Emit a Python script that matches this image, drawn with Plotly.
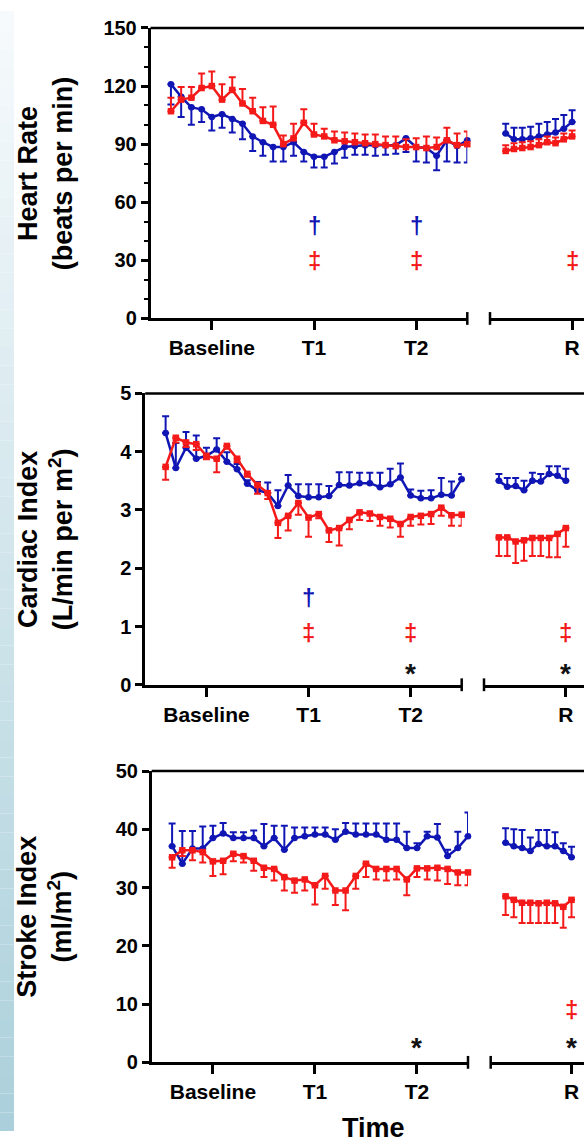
import plotly.graph_objects as go

# ---------------- data ----------------
# time points: 30 readings on the main timeline, 9 during recovery
t_main = list(range(30))
t_rec = list(range(9))

main_tickvals = [4, 14, 24]
main_ticktext = ["Baseline", "T1", "T2"]
rec_tickvals = [8]
rec_ticktext = ["R"]

# Heart rate (beats per min)
hr_blue = [121, 114.5, 109, 108, 104, 105.5, 103, 100.5, 94, 91, 88.5, 88.5, 91, 86, 83.5,
           83.5, 86, 88.5, 89, 89.5, 89.5, 89.5, 89.5, 93, 88.5, 88, 84, 92, 89, 92]
hr_blue_err = [10.5, 10.5, 9, 6.5, 7, 7, 7, 8, 7.5, 7, 7.5, 7.5, 7, 5, 5.5,
               5.5, 6, 5.5, 4.5, 5, 5.5, 5, 4.5, 7, 7.5, 7.5, 7.5, 11, 8.5, 11.5]
hr_red = [107, 113, 114, 119, 120, 113, 118, 111, 107, 102, 100, 90, 93, 101, 95,
          94, 92, 91.5, 91, 90.5, 90, 89.5, 89, 88.5, 88.5, 88, 88.5, 92, 89.5, 90]
hr_red_err = [7, 6.5, 5.5, 7.5, 7.5, 8, 6.5, 7.5, 7, 7, 9.5, 4.5, 7.5, 7, 5.5,
              4, 4.5, 4.5, 4.5, 4.5, 5, 4.5, 5, 4, 4.5, 6, 5, 6.5, 6, 6.5]
hr_blue_rec = [95.5, 92.5, 92.5, 93, 94, 95, 96, 98, 101.5]
hr_blue_rec_err = [5, 6, 6, 6, 6.5, 6.5, 7, 7, 6]
hr_red_rec = [86.5, 87.5, 88, 88.5, 89.5, 91, 90.5, 92.5, 94]
hr_red_rec_err = [3, 3, 3, 3, 3, 3, 3, 3, 3]

# Cardiac index (L/min per m2)
ci_blue = [4.32, 3.72, 4.07, 3.88, 3.93, 4.04, 3.83, 3.70, 3.45, 3.34, 3.29, 3.07, 3.42, 3.24, 3.22,
           3.22, 3.24, 3.43, 3.42, 3.46, 3.46, 3.39, 3.44, 3.56, 3.25, 3.20, 3.20, 3.26, 3.25, 3.53]
ci_blue_err = [0.29, 0.43, 0.27, 0.40, 0.14, 0.19, 0.16, 0.09, 0.06, 0.14, 0.18, 0.27, 0.18, 0.20, 0.22,
               0.22, 0.17, 0.22, 0.23, 0.18, 0.18, 0.25, 0.27, 0.24, 0.10, 0.13, 0.14, 0.29, 0.24, 0.09]
ci_red = [3.74, 4.24, 4.16, 4.13, 3.93, 3.88, 4.10, 3.88, 3.62, 3.43, 3.29, 2.78, 2.90, 3.12, 2.87,
          2.93, 2.65, 2.69, 2.83, 2.96, 2.94, 2.88, 2.85, 2.76, 2.88, 2.90, 2.93, 3.04, 2.91, 2.92]
ci_red_err = [0.22, 0.08, 0.08, 0.10, 0.06, 0.23, 0.05, 0.06, 0.05, 0.15, 0.10, 0.26, 0.25, 0.20, 0.33,
              0.07, 0.20, 0.30, 0.16, 0.13, 0.13, 0.15, 0.15, 0.22, 0.15, 0.15, 0.17, 0.14, 0.18, 0.19]
ci_blue_rec = [3.50, 3.40, 3.41, 3.34, 3.50, 3.49, 3.62, 3.59, 3.50]
ci_blue_rec_err = [0.12, 0.15, 0.14, 0.16, 0.14, 0.13, 0.13, 0.16, 0.21]
ci_red_rec = [2.53, 2.53, 2.46, 2.48, 2.52, 2.52, 2.52, 2.59, 2.69]
ci_red_rec_err = [0.32, 0.32, 0.37, 0.35, 0.31, 0.31, 0.33, 0.40, 0.32]

# Stroke index (ml/m2)
si_blue = [37.1, 34.1, 36.7, 36.7, 38.5, 39.3, 38.5, 38.5, 38.5, 37.1, 38.5, 36.5, 38.5, 38.8, 39.1,
           39.1, 38.2, 39.6, 39.1, 39.1, 39.1, 38.2, 38.2, 36.8, 36.8, 38.8, 38.6, 35.4, 36.8, 38.8]
si_blue_err = [3.9, 5.6, 3.0, 3.8, 2.1, 1.8, 1.0, 1.0, 1.3, 3.8, 2.1, 4.1, 1.8, 1.5, 1.2,
               1.2, 1.8, 1.5, 1.9, 1.9, 1.9, 2.8, 2.8, 2.8, 0.8, 0.8, 2.3, 1.1, 2.8, 4.1]
si_red = [35.2, 36.4, 36.4, 36.1, 34.5, 34.6, 35.8, 35.4, 34.6, 33.4, 33.2, 31.8, 31.2, 31.4, 30.4,
          32.0, 29.5, 29.5, 32.0, 34.1, 33.2, 33.2, 33.2, 31.4, 33.3, 33.3, 33.4, 33.2, 32.6, 32.6]
si_red_err = [1.8, 1.0, 1.7, 1.8, 2.5, 2.3, 1.3, 1.1, 1.7, 1.6, 2.0, 2.3, 2.1, 1.9, 3.3,
              2.2, 2.5, 3.4, 2.2, 2.3, 1.8, 2.0, 1.8, 2.7, 1.5, 1.9, 2.2, 2.6, 2.2, 2.2]
si_blue_rec = [37.7, 37.1, 36.8, 36.3, 37.5, 37.1, 37.1, 36.3, 35.2]
si_blue_rec_err = [2.5, 2.9, 3.1, 2.3, 2.4, 2.8, 2.4, 1.3, 1.8]
si_red_rec = [28.5, 27.9, 27.4, 27.4, 27.3, 27.4, 27.3, 26.7, 27.9]
si_red_rec_err = [3.2, 3.0, 3.5, 3.5, 3.4, 3.5, 3.4, 3.6, 3.0]

# significance symbols: (segment, time, level, symbol, group)
hr_marks = [("main", 14, 48, "†", "blue"), ("main", 24, 48, "†", "blue"),
            ("main", 14, 30, "‡", "red"), ("main", 24, 30, "‡", "red"),
            ("rec", 8, 30, "‡", "red")]
ci_marks = [("main", 14, 1.5, "†", "blue"), ("main", 14, 0.9, "‡", "red"),
            ("main", 24, 0.9, "‡", "red"), ("main", 24, 0.32, "*", "black"),
            ("rec", 8, 0.9, "‡", "red"), ("rec", 8, 0.32, "*", "black")]
si_marks = [("main", 24, 3.7, "*", "black"), ("rec", 8, 9.1, "‡", "red"),
            ("rec", 8, 3.7, "*", "black")]

# ---------------- styling / geometry ----------------
W, H = 584, 1142
COLORS = {"blue": "#1016b4", "red": "#f41a1a", "black": "#111111"}
FONT = "Liberation Sans, Arial, Helvetica, sans-serif"
AXW = 2.5

panels = [
    dict(title="Heart Rate<br>(beats per min)", yrange=[0, 150], ytick=30, yminor=10,
         left=150.5, main_end=467.3, rec_start=490, rec_first=505.7, rec_step=8.3,
         top=17.3, bottom=313.5,
         blue=(hr_blue, hr_blue_err, "down"), red=(hr_red, hr_red_err, "up"),
         blue_rec=(hr_blue_rec, hr_blue_rec_err, "up"), red_rec=(hr_red_rec, hr_red_rec_err, "up"),
         marks=hr_marks),
    dict(title="Cardiac Index<br>(L/min per m<sup>2</sup>)", yrange=[0, 5], ytick=1, yminor=None,
         left=145.2, main_end=461.7, rec_start=484, rec_first=498.9, rec_step=8.37,
         top=390, bottom=687,
         blue=(ci_blue, ci_blue_err, "up"), red=(ci_red, ci_red_err, "down"),
         blue_rec=(ci_blue_rec, ci_blue_rec_err, "up"), red_rec=(ci_red_rec, ci_red_rec_err, "down"),
         marks=ci_marks),
    dict(title="Stroke Index<br>(ml/m<sup>2</sup>)", yrange=[0, 50], ytick=10, yminor=None,
         left=151.7, main_end=468, rec_start=490.7, rec_first=505.6, rec_step=8.24,
         top=775, bottom=1072,
         blue=(si_blue, si_blue_err, "up"), red=(si_red, si_red_err, "down"),
         blue_rec=(si_blue_rec, si_blue_rec_err, "up"), red_rec=(si_red_rec, si_red_rec_err, "down"),
         marks=si_marks),
]

fig = go.Figure()
layout = dict(width=W, height=H, margin=dict(l=0, r=0, t=0, b=0),
              paper_bgcolor="white", plot_bgcolor="rgba(0,0,0,0)",
              showlegend=False, annotations=[], shapes=[])

# pale blue strip running down the left edge
n_bands = 60
c_top, c_bot = (246, 250, 252), (172, 208, 219)
for k in range(n_bands):
    f = k / (n_bands - 1)
    col = tuple(round(a + (b - a) * f) for a, b in zip(c_top, c_bot))
    layout["shapes"].append(dict(type="rect", xref="paper", yref="paper",
                                 x0=0, x1=14 / W, y0=1 - (k + 1) / n_bands, y1=1 - k / n_bands,
                                 fillcolor="rgb(%d,%d,%d)" % col, line=dict(width=0), layer="below"))


def err_kw(values, direction, color):
    zeros = [0] * len(values)
    return dict(type="data", symmetric=False,
                array=values if direction == "up" else zeros,
                arrayminus=values if direction == "down" else zeros,
                color=color, thickness=2, width=3.5)


def add_series(x, y, err, direction, group, xref, yref):
    color = COLORS[group]
    fig.add_trace(go.Scatter(
        x=x, y=y, mode="lines+markers", xaxis=xref, yaxis=yref, cliponaxis=False,
        line=dict(color=color, width=2.5),
        marker=dict(color=color, size=6.5, symbol="circle" if group == "blue" else "square"),
        error_y=err_kw(err, direction, color)))


def axis_key(ref):
    return ref[0] + "axis" + ref[1:]


xtickfont = dict(family=FONT, size=21, color="black", weight="bold")
ytickfont = dict(family=FONT, size=20, color="black", weight="bold")

for i, p in enumerate(panels):
    xm, xr, yy = f"x{2 * i + 1}", f"x{2 * i + 2}", f"y{i + 1}"
    xm = "x" if xm == "x1" else xm
    yy = "y" if yy == "y1" else yy

    ydom = [1 - p["bottom"] / H, 1 - p["top"] / H]
    main_dom = [p["left"] / W, p["main_end"] / W]
    rec_dom = [p["rec_start"] / W, 1.0]
    rec_lo = (p["rec_start"] - p["rec_first"]) / p["rec_step"]
    rec_hi = (W - p["rec_first"]) / p["rec_step"]

    xcommon = dict(showgrid=False, zeroline=False, showline=True, linecolor="black",
                   linewidth=AXW, ticks="outside", ticklen=9, tickwidth=AXW, tickcolor="black",
                   tickfont=xtickfont, anchor=yy, fixedrange=True)
    layout[axis_key(xm)] = dict(xcommon, domain=main_dom, range=[-2, 29],
                                tickmode="array", tickvals=main_tickvals, ticktext=main_ticktext)
    layout[axis_key(xr)] = dict(xcommon, domain=rec_dom, range=[rec_lo, rec_hi],
                                tickmode="array", tickvals=rec_tickvals, ticktext=rec_ticktext)

    yax = dict(domain=ydom, range=p["yrange"], anchor=xm, showgrid=False, zeroline=False,
               showline=True, linecolor="black", linewidth=AXW, ticks="outside", ticklen=7,
               tickwidth=AXW, tickcolor="black", dtick=p["ytick"], tick0=0, tickfont=ytickfont,
               fixedrange=True)
    if p["yminor"]:
        yax["minor"] = dict(dtick=p["yminor"], ticks="outside", ticklen=4, tickwidth=2,
                            tickcolor="black", showgrid=False)
    layout[axis_key(yy)] = yax

    # data
    add_series(t_main, p["blue"][0], p["blue"][1], p["blue"][2], "blue", xm, yy)
    add_series(t_main, p["red"][0], p["red"][1], p["red"][2], "red", xm, yy)
    add_series(t_rec, p["blue_rec"][0], p["blue_rec"][1], p["blue_rec"][2], "blue", xr, yy)
    add_series(t_rec, p["red_rec"][0], p["red_rec"][1], p["red_rec"][2], "red", xr, yy)

    # frame: top rule across both segments, end caps at the axis break
    layout["shapes"].append(dict(type="line", xref="paper", yref=f"{yy} domain",
                                 x0=main_dom[0], x1=1, y0=1, y1=1,
                                 line=dict(color="black", width=AXW)))
    layout["shapes"].append(dict(type="line", xref=f"{xm} domain", yref=f"{yy} domain",
                                 x0=1, x1=1, y0=-0.022, y1=0.022,
                                 line=dict(color="black", width=AXW)))
    layout["shapes"].append(dict(type="line", xref=f"{xr} domain", yref=f"{yy} domain",
                                 x0=0, x1=0, y0=-0.022, y1=0.022,
                                 line=dict(color="black", width=AXW)))

    # y-axis title
    layout["annotations"].append(dict(
        text=p["title"], textangle=-90, xref="paper", yref="paper",
        x=45 / W, y=(ydom[0] + ydom[1]) / 2, xanchor="center", yanchor="middle",
        showarrow=False, font=dict(family=FONT, size=27, color="black", weight="bold")))

    # significance symbols (the asterisk glyph sits high in its box, so nudge it down)
    for seg, tx, lvl, sym, grp in p["marks"]:
        is_star = sym == "*"
        layout["annotations"].append(dict(
            text=sym, xref=xm if seg == "main" else xr, yref=yy, x=tx, y=lvl,
            xanchor="center", yanchor="middle", showarrow=False,
            yshift=-7 if is_star else 0,
            font=dict(family=FONT, size=28 if is_star else 24, color=COLORS[grp], weight="bold")))

layout["annotations"].append(dict(
    text="Time", xref="paper", yref="paper", x=373 / W, y=1 - 1139 / H,
    xanchor="center", yanchor="middle", showarrow=False,
    font=dict(family=FONT, size=27, color="black", weight="bold")))

fig.update_layout(**layout)
fig.write_html("out.html")
